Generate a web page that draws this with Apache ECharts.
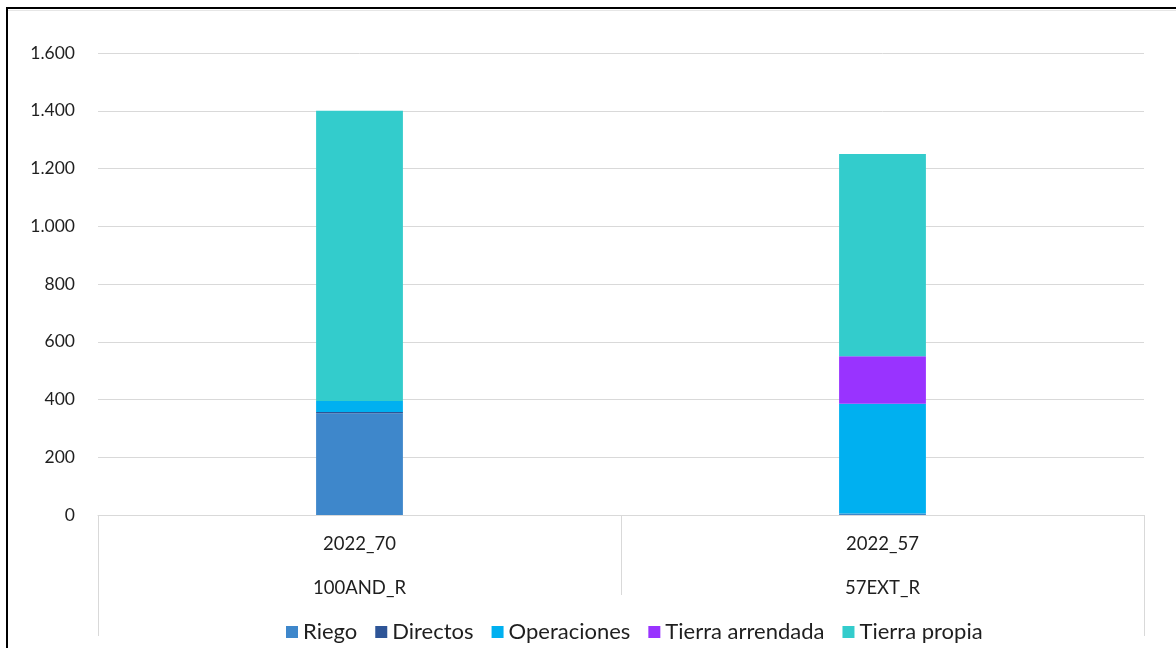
<!DOCTYPE html>
<html>
<head>
<meta charset="utf-8">
<script src="https://cdn.jsdelivr.net/npm/echarts@6/dist/echarts.min.js"></script>
<style>
  html, body { margin: 0; padding: 0; background: #fff; }
  #chart { width: 1176px; height: 648px; position: relative; }
  .frame {
    position: absolute; left: 6px; top: 7px; right: -10px; bottom: -10px;
    border-top: 2px solid #000; border-left: 2px solid #000;
    pointer-events: none;
  }
  .frame-inner {
    position: absolute; left: 8px; top: 10px; right: 0; height: 0;
    border-top: 1px solid #e6e6e6;
    pointer-events: none;
  }
</style>
</head>
<body>
<div style="position: relative; width: 1176px; height: 648px; overflow: hidden;">
  <div id="chart"></div>
  <div class="frame"></div>
  <div class="frame-inner"></div>
</div>
<script>
// categorias (dos niveles) y series apiladas
const categories = ['2022_70', '2022_57']
const groups = ['100AND_R', '57EXT_R']
const riego = [352, 5]
const directos = [5, 0]
const operaciones = [38, 380]
const tierraArrendada = [0, 165]
const tierraPropia = [1005, 700]

const seriesNames = ['Riego', 'Directos', 'Operaciones', 'Tierra arrendada', 'Tierra propia']
const seriesValues = [riego, directos, operaciones, tierraArrendada, tierraPropia]
const colors = ['#3E87CB', '#2E5597', '#00B0F0', '#9933FF', '#33CCCC']

const font = 'Lato, "Open Sans", sans-serif'
const lineColor = '#d9d9d9'
const textColor = '#1f1f1f'

const myChart = echarts.init(document.getElementById('chart'))

function fmt (v) {
  return String(v).replace(/\B(?=(\d{3})+(?!\d))/g, '.')
}

const options = {
  animation: false,
  color: colors,
  grid: {
    left: 98,
    right: 32,
    top: 53,
    bottom: 133,
    outerBoundsMode: 'none'
  },
  legend: {
    left: 281,
    top: 616,
    icon: 'rect',
    itemWidth: 12,
    itemHeight: 12,
    itemGap: 18,
    textStyle: { fontFamily: font, fontSize: 22, color: textColor },
    data: seriesNames
  },
  xAxis: [
    {
      type: 'category',
      position: 'bottom',
      data: categories,
      axisLine: { show: true, lineStyle: { color: lineColor } },
      axisTick: { show: true, length: 80, interval: 0, lineStyle: { color: lineColor } },
      axisLabel: { margin: 20, fontFamily: font, fontSize: 18.5, color: textColor }
    },
    {
      // segundo nivel de etiquetas
      type: 'category',
      position: 'bottom',
      offset: 0,
      data: groups,
      axisLine: { show: false },
      axisTick: { show: false },
      axisLabel: { margin: 64, fontFamily: font, fontSize: 18.5, color: textColor }
    },
    {
      // marco exterior del eje
      type: 'category',
      position: 'bottom',
      offset: 0,
      data: [''],
      axisLine: { show: false },
      axisTick: { show: true, length: 121, lineStyle: { color: lineColor } },
      axisLabel: { show: false }
    }
  ],
  yAxis: {
    type: 'value',
    min: 0,
    max: 1600,
    interval: 200,
    axisLine: { show: false },
    axisTick: { show: false },
    splitLine: { lineStyle: { color: lineColor } },
    axisLabel: {
      margin: 23,
      fontFamily: font,
      fontSize: 17.5,
      color: textColor,
      formatter: fmt
    }
  },
  series: seriesNames.map((name, i) => ({
    name: name,
    type: 'bar',
    stack: 'total',
    xAxisIndex: 0,
    barWidth: '16.6%',
    data: seriesValues[i],
    itemStyle: { color: colors[i] }
  }))
}

myChart.setOption(options)
</script>
</body>
</html>
